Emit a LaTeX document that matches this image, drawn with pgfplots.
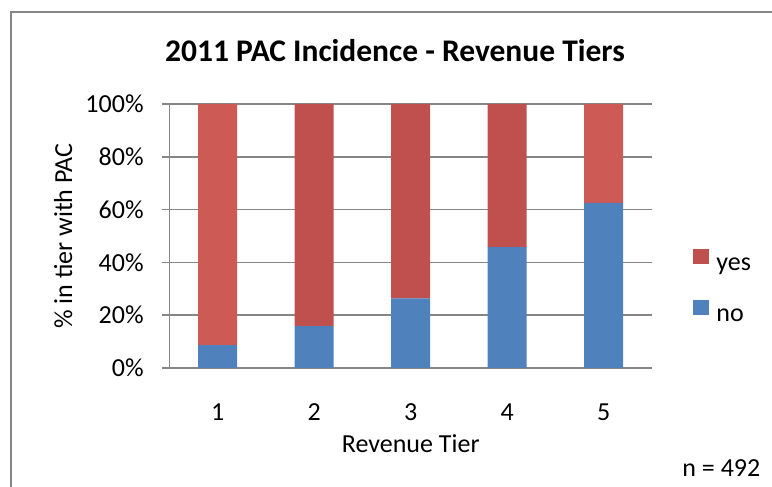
\documentclass[border=0pt]{standalone}
\usepackage{pgfplots}
\pgfplotsset{compat=1.18}
\usepackage{fontspec}
\setmainfont{Carlito}
\definecolor{xlBlue}{HTML}{4F81BD}
\definecolor{xlRed}{HTML}{C0504D}
\definecolor{xlRedLight}{HTML}{CD5A55}
\definecolor{xlGray}{HTML}{868686}
\newcommand{\bodyfont}{\fontsize{13bp}{15.6bp}\selectfont}
\begin{document}
\begin{tikzpicture}
\useasboundingbox (0,0) rectangle (386bp,243.5bp);
% chart area border (only left and top edges fall inside the picture)
\draw[xlGray,line width=1bp] (5.5bp,0bp) -- (5.5bp,237.5bp) -- (386bp,237.5bp);
\begin{axis}[
  scale only axis,width=241.25bp,height=132bp,
  at={(84.75bp,59.5bp)},anchor=south west,
  ybar stacked,bar width=19.5bp,
  xmin=0.5,xmax=5.5,ymin=0,ymax=100,
  xtick={1,2,3,4,5},xticklabels={1,2,3,4,5},
  ytick={0,20,40,60,80,100},
  yticklabels={0\%,20\%,40\%,60\%,80\%,100\%},
  axis x line*=bottom,axis y line*=left,
  every outer x axis line/.append style={-,xlGray,line width=0.75bp},
  every outer y axis line/.append style={-,xlGray,line width=0.75bp},
  ymajorgrids,grid style={xlGray,line width=0.75bp},
  tick align=outside,major tick length=4bp,
  ytick style={xlGray,line width=0.75bp},
  xtick style={draw=none},
  ticklabel style={font=\bodyfont},
  yticklabel style={anchor=east,inner sep=0pt,xshift=-8.75bp},
  xticklabel style={anchor=base,inner sep=0pt,yshift=-22bp},
  xlabel={Revenue Tier},
  every axis x label/.style={at={([yshift=-42bp]axis description cs:0.5,0)},anchor=base,inner sep=0pt,font=\bodyfont},
  ylabel={\% in tier with PAC},
  every axis y label/.style={at={([xshift=-48.75bp]axis description cs:0,0.5)},rotate=90,anchor=base,inner sep=0pt,font=\bodyfont},
  reverse legend,
  legend image code/.code={\fill[#1] (0bp,0bp) rectangle (8bp,7.5bp);},
  legend style={draw=none,fill=none,at={(axis description cs:1.085,0.4508)},anchor=north west,
    inner sep=0pt,row sep=12bp,column sep=3.5bp,font=\bodyfont,
    nodes={inner sep=0pt,text height=9bp,text depth=3bp}},
  legend cell align=left,
]
\addplot[fill=xlBlue,draw=none] coordinates {(1,8.7) (2,15.9) (3,26.4) (4,45.8) (5,62.5)};
\addplot[fill=xlRed,draw=none] coordinates {(1,0) (2,84.1) (3,73.6) (4,54.2) (5,0)};
\addplot[fill=xlRedLight,draw=none,forget plot] coordinates {(1,91.3) (2,0) (3,0) (4,0) (5,37.5)};
\legend{no,yes}
\end{axis}
\node[anchor=base,inner sep=0pt,font=\fontsize{15.75bp}{18bp}\selectfont\bfseries] at (197.5bp,212.5bp) {2011 PAC Incidence - Revenue Tiers};
\node[anchor=base west,inner sep=0pt,font=\bodyfont] at (341bp,5.15bp) {n = 492};
\end{tikzpicture}
\end{document}
